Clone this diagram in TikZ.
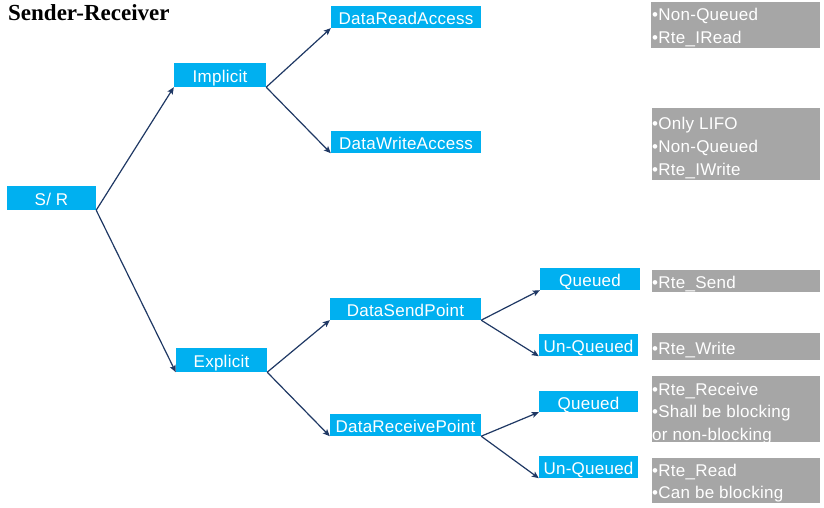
\documentclass[tikz,border=0pt]{standalone}
\usepackage{fontspec}
\setmainfont{Liberation Sans}
\newfontfamily\spacedfont[LetterSpace=1.5]{Liberation Sans}
\newfontfamily\titlefont{Liberation Serif}
\usetikzlibrary{arrows.meta}
\definecolor{boxblue}{HTML}{00B0F0}
\definecolor{boxgrey}{HTML}{A6A6A6}
\definecolor{arrownavy}{HTML}{1F3864}
\tikzset{
  bluebox/.style={fill=boxblue, text=white, inner sep=0pt, text height=15pt, text depth=0pt, font=\spacedfont\fontsize{17}{20}\selectfont},
  greybox/.style={fill=boxgrey, inner sep=0pt, anchor=north west},
  greytext/.style={text=white, inner sep=0pt, anchor=base west, font=\spacedfont\fontsize{17}{20}\selectfont},
  link/.style={draw=arrownavy, line width=1.2pt, -{Stealth[length=7pt,width=6pt,inset=1.5pt]}},
  titletext/.style={inner sep=0pt, anchor=base west, font=\titlefont\bfseries\fontsize{23}{26}\selectfont}
}
\begin{document}
\begin{tikzpicture}[x=1pt,y=-1pt]
\useasboundingbox (0,0) rectangle (824,508);
\node[titletext] (title) at (8,21) {Sender-Receiver};
% blue boxes
\node[bluebox, minimum width=89pt, minimum height=24pt] (sr) at (51.5,198) {S/ R};
\node[bluebox, minimum width=92pt, minimum height=24pt] (imp) at (220,75) {Implicit};
\node[bluebox, minimum width=91pt, minimum height=24pt] (exp) at (221.5,360) {Explicit};
\node[bluebox, minimum width=150pt, minimum height=22pt] (dra) at (406,17) {DataReadAccess};
\node[bluebox, minimum width=150pt, minimum height=22pt] (dwa) at (406,142) {DataWriteAccess};
\node[bluebox, minimum width=151pt, minimum height=22pt] (dsp) at (405.5,309) {DataSendPoint};
\node[bluebox, minimum width=151pt, minimum height=22pt] (drp) at (405.5,425) {DataReceivePoint};
\node[bluebox, minimum width=100pt, minimum height=22pt] (q1) at (590,279) {Queued};
\node[bluebox, minimum width=99pt, minimum height=22pt] (u1) at (588.5,345) {Un-Queued};
\node[bluebox, minimum width=99pt, minimum height=21pt] (q2) at (588.5,401.5) {Queued};
\node[bluebox, minimum width=99pt, minimum height=22pt] (u2) at (588.5,467) {Un-Queued};
% connectors
\draw[link] (sr.south east) -- (imp.south west);
\draw[link] (sr.south east) -- (exp.south west);
\draw[link] (imp.south east) -- (dra.south west);
\draw[link] (imp.south east) -- (dwa.south west);
\draw[link] (exp.south east) -- (dsp.south west);
\draw[link] (exp.south east) -- (drp.south west);
\draw[link] (dsp.south east) -- (q1.south west);
\draw[link] (dsp.south east) -- (u1.south west);
\draw[link] (drp.south east) -- (q2.south west);
\draw[link] (drp.south east) -- (u2.south west);
% grey boxes
\node[greybox, minimum width=169pt, minimum height=46pt] (g1) at (651,2) {};
\node[greybox, minimum width=168pt, minimum height=72pt] (g2) at (652,108) {};
\node[greybox, minimum width=168pt, minimum height=22pt] (g3) at (652,270) {};
\node[greybox, minimum width=168pt, minimum height=27pt] (g4) at (652,333) {};
\node[greybox, minimum width=168pt, minimum height=66pt] (g5) at (652,376) {};
\node[greybox, minimum width=168pt, minimum height=45pt] (g6) at (652,458) {};
\begin{scope}
\clip (g1.north west) rectangle (g1.south east);
\node[greytext] (g1a) at (652,21) {•Non-Queued};
\node[greytext] (g1b) at (652,43.5) {•Rte\_IRead};
\end{scope}
\begin{scope}
\clip (g2.north west) rectangle (g2.south east);
\node[greytext] (g2a) at (652,129.5) {•Only LIFO};
\node[greytext] (g2b) at (652,152) {•Non-Queued};
\node[greytext] (g2c) at (652,175.5) {•Rte\_IWrite};
\end{scope}
\begin{scope}
\clip (g3.north west) rectangle (g3.south east);
\node[greytext] (g3a) at (652,288.5) {•Rte\_Send};
\end{scope}
\begin{scope}
\clip (g4.north west) rectangle (g4.south east);
\node[greytext] (g4a) at (652,354.5) {•Rte\_Write};
\end{scope}
\begin{scope}
\clip (g5.north west) rectangle (g5.south east);
\node[greytext] (g5a) at (652,395) {•Rte\_Receive};
\node[greytext] (g5b) at (652,417.5) {•Shall be blocking};
\node[greytext] (g5c) at (652,440) {or non-blocking};
\end{scope}
\begin{scope}
\clip (g6.north west) rectangle (g6.south east);
\node[greytext] (g6a) at (652,476) {•Rte\_Read};
\node[greytext] (g6b) at (652,498.5) {•Can be blocking};
\end{scope}
\end{tikzpicture}
\end{document}
